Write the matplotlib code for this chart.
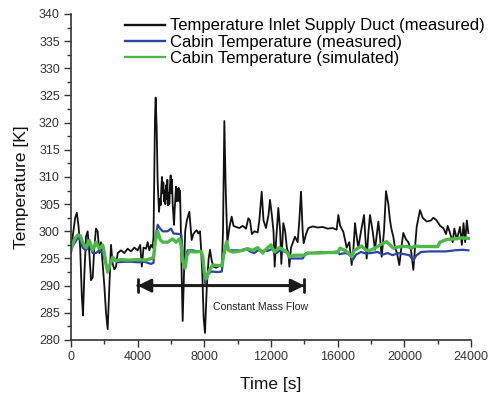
import matplotlib.pyplot as plt
from matplotlib.ticker import MultipleLocator

plt.rcParams['font.family'] = ['Liberation Sans', 'DejaVu Sans']

# ---------------- datos ----------------
# Temperatura entrada conducto (medida)
t_duct = [0, 100, 250, 350, 450, 550, 650, 720, 800, 900, 1000, 1100, 1200, 1300, 1400, 1500,
          1600, 1700, 1800, 1900, 2000, 2100, 2200, 2300, 2400, 2500, 2600, 2700, 2800, 3000,
          3200, 3400, 3600, 3800, 4000, 4150, 4250, 4350, 4500, 4600, 4700, 4800, 4900, 4950,
          5000, 5040, 5080, 5140, 5200, 5280, 5340, 5380, 5420, 5460, 5500, 5540, 5580, 5620,
          5660, 5700, 5740, 5780, 5820, 5860, 5900, 5940, 5980, 6020, 6060, 6100, 6140, 6180,
          6220, 6260, 6300, 6340, 6380, 6420, 6460, 6500, 6540, 6580, 6640, 6700, 6780, 6850,
          6950, 7100, 7240, 7340, 7440, 7540, 7640, 7740, 7800, 7880, 7960, 8040, 8150, 8260,
          8340, 8450, 8550, 8700, 8900, 9050, 9120, 9200, 9280, 9380, 9520, 9640, 9750, 9900,
          10100, 10300, 10500, 10640, 10740, 10850, 11000, 11200, 11300, 11440, 11550, 11700,
          11850, 11940, 12050, 12150, 12220, 12300, 12440, 12550, 12620, 12740, 12850, 12950,
          13050, 13100, 13200, 13440, 13600, 13700, 13800, 13900, 13960, 14100, 14240, 14500,
          14800, 15100, 15400, 15700, 15940, 16040, 16150, 16340, 16540, 16700, 16840, 16950,
          17040, 17140, 17240, 17400, 17580, 17660, 17740, 17850, 17940, 18100, 18240, 18440,
          18540, 18640, 18780, 18900, 19040, 19140, 19240, 19340, 19440, 19560, 19700, 19820,
          19940, 20100, 20240, 20400, 20540, 20640, 20740, 20940, 21100, 21340, 21600, 21740,
          21940, 22150, 22340, 22500, 22600, 22740, 22900, 23000, 23150, 23340, 23450, 23550,
          23650, 23750, 23840]
T_duct = [296, 299, 302.5, 303.4, 301, 297, 288, 284.5, 292, 299, 300, 296, 291, 291.5, 297, 300.5,
          300, 296, 298, 294, 290, 285, 282, 290, 297.5, 294, 293, 293.5, 296, 296.5,
          296, 296.8, 296.3, 297, 296.5, 297.5, 293.5, 297, 296.8, 298, 296.5, 297.5, 297, 299,
          312, 321, 324.6, 319, 309, 303.6, 306, 304.8, 308, 310, 307, 309, 305.5, 307.5,
          305, 308.5, 306, 309.5, 304.8, 307, 305, 308.5, 310.3, 307, 309.5, 305, 303, 301.2,
          304, 306, 308.2, 305.5, 307.8, 306, 308, 305.5, 307.5, 302, 292, 283.5, 292, 300,
          302, 303.6, 298.4, 299.5, 299.9, 300.2, 299.6, 300, 297, 292, 284, 281.3, 290, 295,
          296.6, 294.5, 293.5, 293.3, 293.6, 293.5, 300, 320.3, 308, 298, 301, 302.7, 301, 300.8,
          300.6, 301, 300.5, 302.4, 302, 299.5, 300, 299.8, 302, 307.3, 302, 300.6,
          303, 305.8, 303, 300, 293.5, 298, 304.3, 300, 294, 301.5, 300, 297,
          296, 293.5, 297, 299, 298, 302, 307.3, 300, 297.8, 299.5, 300.6, 300.9,
          300.7, 300.8, 300.5, 300.6, 300.3, 303, 301, 299.9, 297, 298, 293.8, 297,
          301.5, 299, 297, 300, 303, 299, 295, 300, 303, 300, 296.6, 301.8,
          299, 295.3, 300, 307.4, 305, 302, 300.2, 299, 297, 296, 293.8, 297,
          299.7, 298.5, 298, 296.5, 292.9, 297, 300.8, 303.9, 302.5, 301.8, 302, 302.5,
          302, 301, 300.6, 299.5, 301, 299.7, 298, 300.5, 298.5, 300.8, 297.5, 301.5,
          298, 302, 299.7]

# Temperatura cabina (medida)
t_cab = [0, 150, 400, 550, 700, 900, 1100, 1300, 1500, 1700, 1900, 2000, 2100, 2200, 2350, 2500,
         2650, 2800, 3200, 3600, 4000, 4400, 4800, 4950, 5050, 5200, 5350, 5500, 5800, 6000,
         6150, 6500, 6620, 6700, 6800, 6900, 7000, 7300, 7600, 7850, 7950, 8050, 8200, 8400,
         8800, 9050, 9150, 9300, 9450, 9800, 10200, 10500, 10800, 11000, 11200, 11500, 11800,
         12100, 12300, 12500, 12800, 13000, 13100, 13300, 13600, 13900, 14100, 14500, 15000,
         15500, 16000, 16100, 16500, 16800, 16900, 17100, 17400, 17700, 18000, 18400, 18700,
         19000, 19300, 19600, 20000, 20300, 20540, 20700, 21000, 21500, 22000, 22500, 23000,
         23500, 23840]
T_cab = [297, 297.5, 298.8, 298.5, 297, 296.5, 297.5, 296, 296, 296.5, 296, 295, 293.8, 293, 294, 295,
         294.6, 294.3, 294.4, 294.4, 294.3, 294.4, 294.0, 294.2, 298.5, 301.2, 300.5, 300, 300, 300.5,
         299.6, 299.5, 299.3, 296, 293.5, 295.5, 296.5, 296.5, 296.3, 296.2, 293, 290.5, 292, 292.6,
         292.5, 292.6, 295.5, 297.5, 296.5, 296.5, 296.5, 296.8, 296.2, 296, 296.5, 296.4, 296.4,
         296.8, 296, 296.4, 296.3, 296, 295, 295, 295, 295, 296, 296, 296.2,
         296.1, 296.3, 295.8, 296, 295.5, 294.7, 295.7, 296.2, 295.9, 296, 296.2, 295.7,
         296, 295.6, 296, 295.8, 295.6, 294.6, 295.5, 296.2, 296.3, 296.3, 296.3, 296.5,
         296.6, 296.5]

# Temperatura cabina (simulada)
t_sim = [0, 200, 400, 550, 700, 900, 1100, 1300, 1500, 1700, 1900, 2000, 2100, 2200, 2350, 2500,
         2700, 3000, 3500, 4000, 4500, 4800, 4950, 5050, 5200, 5350, 5500, 5800, 6100, 6300,
         6500, 6600, 6700, 6840, 6950, 7100, 7400, 7800, 7900, 8000, 8100, 8300, 8500, 8800,
         9050, 9150, 9340, 9450, 9700, 10000, 10300, 10600, 10900, 11200, 11500, 11800, 12000,
         12200, 12500, 12800, 13000, 13100, 13400, 13700, 14000, 14200, 14800, 15400, 16000,
         16140, 16500, 16840, 17000, 17440, 17700, 17940, 18300, 18540, 18940, 19340, 19740,
         20200, 20440, 20640, 21000, 21600, 22000, 22140, 22540, 23000, 23400, 23840]
T_sim = [296.5, 298.5, 299.3, 299.2, 298, 297, 298.3, 296.5, 298, 296.8, 297.5, 296, 294, 292.5, 294, 295.2,
         294.6, 294.8, 294.7, 294.8, 294.7, 295, 295.2, 298, 300, 298.5, 298, 298, 298.6, 298,
         298.6, 297.5, 294.5, 293.2, 295.5, 296.3, 296.2, 296.3, 295.5, 292.5, 291.2, 292.8, 293.8, 293.7,
         293.7, 295.5, 298.1, 296.5, 296.2, 296.3, 296.5, 296.8, 296.5, 297, 296, 297, 297.5,
         296.2, 297, 296.5, 296, 295.3, 295.6, 295.6, 295.6, 296, 296, 296.1, 296.1,
         296.9, 296.4, 295.3, 296.5, 297.3, 296.5, 296.5, 297, 297.5, 298.1, 296.9, 297.2,
         297.2, 296.9, 297.3, 297.2, 297.2, 297.2, 298, 298.5, 298.6, 298.8, 298.7]

nombres = ['Temperature Inlet Supply Duct (measured)',
           'Cabin Temperature (measured)',
           'Cabin Temperature (simulated)']

# intervalo de caudal constante
flujo_ini, flujo_fin, flujo_T = 4000, 14000, 290

# ---------------- grafico ----------------
fig = plt.figure(figsize=(4.89, 3.94), dpi=100)
ax = fig.add_axes([0.1452, 0.1371, 0.818, 0.8274])

ax.plot(t_duct, T_duct, color='#111111', lw=1.3, label=nombres[0])
ax.plot(t_cab, T_cab, color='#2b45a0', lw=1.6, label=nombres[1])
ax.plot(t_sim, T_sim, color='#4cb848', lw=2.4, label=nombres[2])

# flecha "Constant Mass Flow"
ax.annotate('', xy=(flujo_ini, flujo_T), xytext=(flujo_fin, flujo_T),
            arrowprops=dict(arrowstyle='<|-|>,head_length=0.8,head_width=0.4',
                            color='#1a1a1a', lw=2, shrinkA=0, shrinkB=0))
ax.annotate('', xy=(flujo_ini, flujo_T), xytext=(flujo_fin, flujo_T),
            arrowprops=dict(arrowstyle='|-|,widthA=0.45,widthB=0.45',
                            color='#1a1a1a', lw=2, shrinkA=0, shrinkB=0))
ax.text(8500, 286, 'Constant Mass Flow', fontsize=7.6, color='#222222', va='center', ha='left')

ax.set_xlim(0, 24000)
ax.set_ylim(280, 340)
ax.xaxis.set_major_locator(MultipleLocator(4000))
ax.xaxis.set_minor_locator(MultipleLocator(2000))
ax.yaxis.set_major_locator(MultipleLocator(5))
ax.yaxis.set_minor_locator(MultipleLocator(2.5))
ax.tick_params(which='major', length=5, width=1, color='#333333', labelsize=9,
               labelcolor='#333333', pad=3)
ax.tick_params(which='minor', length=3, width=1, color='#333333')

for lado in ['top', 'right']:
    ax.spines[lado].set_visible(False)
for lado in ['left', 'bottom']:
    ax.spines[lado].set_color('#333333')
    ax.spines[lado].set_linewidth(1.2)

ax.set_xlabel('Time [s]', fontsize=12.5, color='#111111', labelpad=10)
ax.set_ylabel('Temperature [K]', fontsize=12.5, color='#111111')
ax.yaxis.set_label_coords(-0.105, 0.47)

leg = ax.legend(loc='upper left', bbox_to_anchor=(0.11, 1.017), frameon=False, fontsize=12,
                handlelength=2.4, handletextpad=0.3, labelspacing=0.08, borderaxespad=0.2)
for linea in leg.get_lines():
    linea.set_linewidth(1.7)

fig.savefig('out.png', dpi=100)
